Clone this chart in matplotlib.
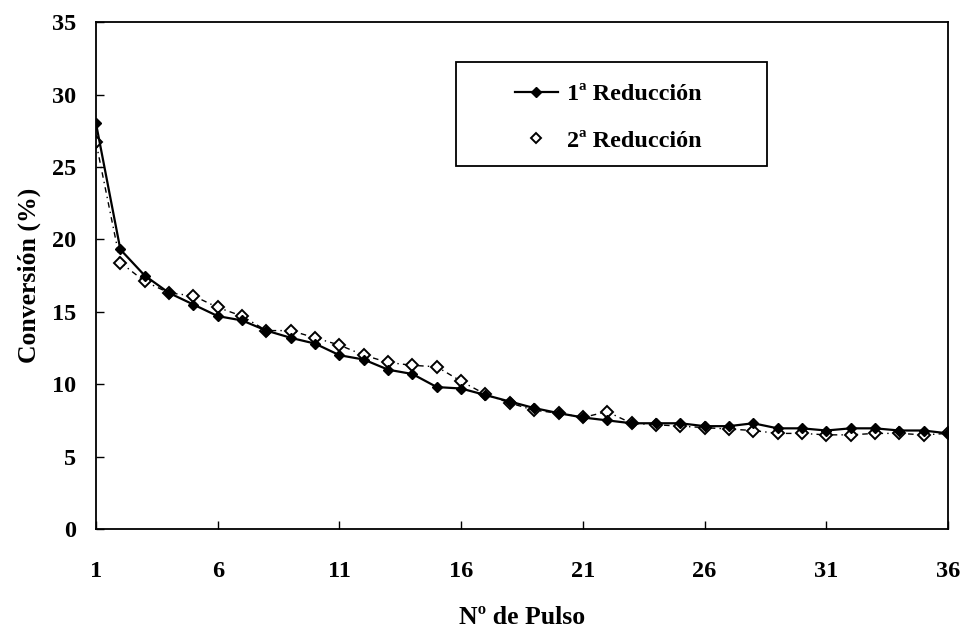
import matplotlib.pyplot as plt
import matplotlib.lines as mlines
from matplotlib.patches import Rectangle

pulsos = list(range(1, 37))

reduccion_1 = [28.0, 19.3, 17.5, 16.3, 15.5, 14.7, 14.4, 13.7, 13.2, 12.8,
               12.0, 11.7, 11.0, 10.7, 9.8, 9.7, 9.25, 8.8, 8.35, 8.0,
               7.7, 7.5, 7.3, 7.3, 7.3, 7.1, 7.1, 7.3, 6.95, 6.95,
               6.8, 6.95, 6.95, 6.8, 6.8, 6.6]
reduccion_2 = [26.7, 18.4, 17.1, 16.3, 16.1, 15.3, 14.7, 13.7, 13.7, 13.2,
               12.7, 12.0, 11.5, 11.3, 11.2, 10.2, 9.3, 8.7, 8.2, 8.0,
               7.7, 8.1, 7.3, 7.2, 7.1, 7.0, 6.9, 6.8, 6.6, 6.6,
               6.5, 6.5, 6.6, 6.6, 6.5, 6.6]

x_ticks = [1, 6, 11, 16, 21, 26, 31, 36]
y_ticks = [0, 5, 10, 15, 20, 25, 30, 35]

plt.rcParams['font.family'] = ['Liberation Serif', 'DejaVu Serif']
plt.rcParams['font.weight'] = 'bold'

fig = plt.figure(figsize=(9.63, 6.32), dpi=100)
ax = fig.add_axes([0.0997, 0.163, 0.8847, 0.802])

ax.plot(pulsos, reduccion_2, color='black', linewidth=1.0,
        linestyle=(0, (4, 3, 1, 3)), marker='D', markersize=6.5,
        markerfacecolor='white', markeredgecolor='black', markeredgewidth=1.4,
        zorder=2)
ax.plot(pulsos, reduccion_1, color='black', linewidth=1.6,
        marker='D', markersize=5.5, markerfacecolor='black',
        markeredgecolor='black', zorder=3)

ax.set_xlim(1, 36)
ax.set_ylim(0, 35)
ax.set_xticks(x_ticks)
ax.set_yticks(y_ticks)
ax.tick_params(direction='in', length=6, width=1, labelsize=17.5)
ax.tick_params(axis='x', pad=23)
ax.tick_params(axis='y', pad=14)
for sp in ax.spines.values():
    sp.set_linewidth(1.3)

ax.set_xlabel('Nº de Pulso', fontsize=18.5, fontweight='bold', labelpad=17)
ax.set_ylabel('Conversión (%)', fontsize=18.5, fontweight='bold', labelpad=8)

# legend frame drawn separately (wide box around the entries)
ax.add_patch(Rectangle((0.4225, 0.716), 0.3651, 0.205, transform=ax.transAxes,
                       facecolor='white', edgecolor='black', linewidth=1.3,
                       zorder=4))

h1 = mlines.Line2D([], [], color='black', linewidth=1.6, marker='D',
                   markersize=5, markerfacecolor='black')
h2 = mlines.Line2D([], [], color='none', marker='D', markersize=5,
                   markerfacecolor='white', markeredgecolor='black',
                   markeredgewidth=1.4)
leg = ax.legend([h1, h2], ['1ª Reducción', '2ª Reducción'],
                loc='upper left', bbox_to_anchor=(0.4918, 0.879),
                fontsize=17.5, frameon=False, borderpad=0, labelspacing=1.0,
                handlelength=1.75, handletextpad=0.4, borderaxespad=0)
leg.set_zorder(5)
for t in leg.get_texts():
    t.set_fontweight('bold')

fig.savefig('out.png', dpi=100)
